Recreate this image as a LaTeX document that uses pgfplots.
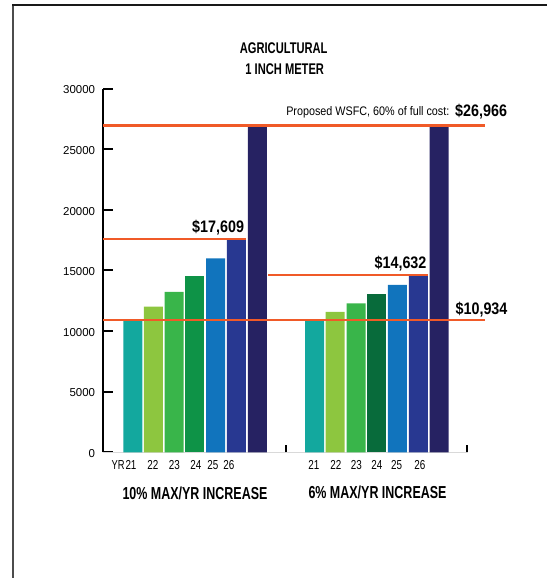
\documentclass[border=0pt]{standalone}
\usepackage{pgfplots}
\pgfplotsset{compat=1.18}
\usepackage{fontspec}
\setmainfont{Liberation Sans}
\newfontfamily\capsf{Liberation Sans}[FakeStretch=0.72]
\newfontfamily\numf{Liberation Sans}[FakeStretch=0.86]
\newfontfamily\txtf{Liberation Sans}[FakeStretch=0.87]
\newfontfamily\tickf{Liberation Sans}[FakeStretch=0.76]
\definecolor{cTeal}{HTML}{13A89E}
\definecolor{cLime}{HTML}{8DC63F}
\definecolor{cGreen}{HTML}{39B54A}
\definecolor{cDGreenA}{HTML}{0E9347}
\definecolor{cDGreenB}{HTML}{086B3B}
\definecolor{cBlue}{HTML}{1174BD}
\definecolor{cNavy}{HTML}{283891}
\definecolor{cDNavy}{HTML}{262262}
\definecolor{cOrange}{HTML}{F05A28}
\begin{document}
\begin{tikzpicture}[x=0.75pt,y=0.75pt]
\path[use as bounding box] (0,0) rectangle (547,578);
% frame
\draw[color=black!70, line width=1.5pt] (13,0) -- (13,573.3);
\draw[color=black!90, line width=1.3pt] (12.2,573.3) -- (547,573.3);
\begin{axis}[
  at={(77.475pt,94.275pt)}, anchor=south west,
  scale only axis, width=273.5pt, height=272.7pt,
  xmin=103.3, xmax=468, ymin=0, ymax=30000,
  clip=false,
  axis y line*=left, axis x line*=bottom,
  y axis line style={black, line width=1.5pt},
  x axis line style={draw=black!15, line width=0.75pt},
  tick align=inside,
  ytick={0,5000,10000,15000,20000,25000,30000},
  ytick style={black, line width=1.5pt},
  major tick length=7pt,
  scaled y ticks=false,
  /pgf/number format/1000 sep={},
  /pgf/number format/assume math mode=true,
  yticklabel style={font=\fontsize{8.6pt}{10pt}\selectfont, inner sep=0pt, anchor=east, xshift=-6pt, yshift=-1pt},
  xtick={131,152.8,174.5,196,213,229,314,336,356.5,377,396.7,420},
  xticklabels={\llap{{\capsf YR}\kern0.6pt}21,22,23,24,25,26,21,22,23,24,25,26},
  xtick style={draw=none},
  xticklabel style={font=\tickf\fontsize{9.75pt}{11pt}\selectfont, inner sep=0pt, anchor=north, yshift=-5.8pt},
]
% bars
\addplot[ybar, bar width=14.25pt, bar shift=0pt, fill=cTeal, draw=none] coordinates {(132.8,10934) (314.7,10934)};
\addplot[ybar, bar width=14.25pt, bar shift=0pt, fill=cLime, draw=none] coordinates {(153.5,12027) (335.2,11590)};
\addplot[ybar, bar width=14.25pt, bar shift=0pt, fill=cGreen, draw=none] coordinates {(174.2,13230) (356.2,12285)};
\addplot[ybar, bar width=14.25pt, bar shift=0pt, fill=cDGreenA, draw=none] coordinates {(194.8,14553)};
\addplot[ybar, bar width=14.25pt, bar shift=0pt, fill=cDGreenB, draw=none] coordinates {(376.8,13023)};
\addplot[ybar, bar width=14.25pt, bar shift=0pt, fill=cBlue, draw=none] coordinates {(215.7,16008) (397.5,13804)};
\addplot[ybar, bar width=14.25pt, bar shift=0pt, fill=cNavy, draw=none] coordinates {(236.5,17609) (418.3,14632)};
\addplot[ybar, bar width=14.25pt, bar shift=0pt, fill=cDNavy, draw=none] coordinates {(257.3,26966) (439.2,26966)};
% reference lines
\addplot[cOrange, line width=1.7pt, mark=none] coordinates {(103.3,26966) (485,26966)};
\addplot[cOrange, line width=1.7pt, mark=none] coordinates {(103.3,17609) (245.7,17609)};
\addplot[cOrange, line width=1.7pt, mark=none] coordinates {(268.3,14632) (427.7,14632)};
\addplot[cOrange, line width=1.7pt, mark=none] coordinates {(103.3,10934) (485,10934)};
% small group separator ticks
\draw[black, line width=1.5pt] (axis cs:286,0) -- (axis cs:286,640);
\draw[black, line width=1.5pt] (axis cs:467.3,0) -- (axis cs:467.3,640);
\end{axis}
% title
\node[anchor=base, inner sep=0pt, font=\capsf\bfseries\fontsize{11.6pt}{13pt}\selectfont] at (283.7,524) {AGRICULTURAL};
\node[anchor=base, inner sep=0pt, font=\capsf\bfseries\fontsize{11.6pt}{13pt}\selectfont] at (284.7,503) {1 INCH METER};
% annotations
\node[anchor=base west, inner sep=0pt, font=\txtf\fontsize{9.3pt}{11pt}\selectfont] at (286,462.3) {Proposed WSFC, 60\% of full cost:};
\node[anchor=base east, inner sep=0pt, font=\numf\bfseries\fontsize{12.5pt}{14pt}\selectfont] at (507.3,461.7) {\$26,966};
\node[anchor=base east, inner sep=0pt, font=\numf\bfseries\fontsize{12.5pt}{14pt}\selectfont] at (244.3,345.7) {\$17,609};
\node[anchor=base east, inner sep=0pt, font=\numf\bfseries\fontsize{12.5pt}{14pt}\selectfont] at (426.7,309.7) {\$14,632};
\node[anchor=base east, inner sep=0pt, font=\numf\bfseries\fontsize{12.5pt}{14pt}\selectfont] at (507.7,263.7) {\$10,934};
% group labels
\node[anchor=base, inner sep=0pt, font=\capsf\bfseries\fontsize{13pt}{15pt}\selectfont] at (195,78.7) {10\% MAX/YR INCREASE};
\node[anchor=base, inner sep=0pt, font=\capsf\bfseries\fontsize{13pt}{15pt}\selectfont] at (377.5,79) {6\% MAX/YR INCREASE};
\end{tikzpicture}
\end{document}
